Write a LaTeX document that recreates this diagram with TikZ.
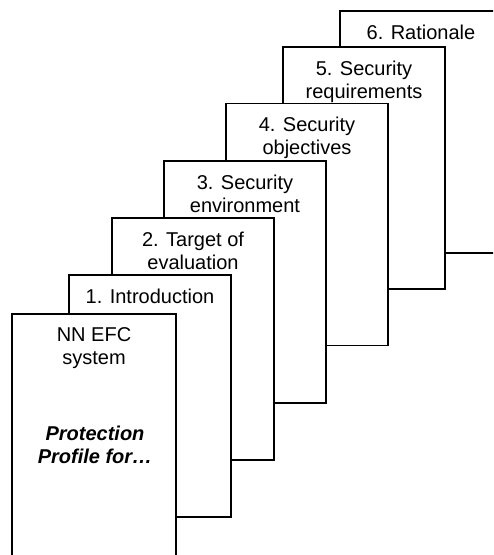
\documentclass[tikz,border=0pt]{standalone}
\usepackage{fontspec}
\setmainfont{Liberation Sans}
\tikzset{
  pagebox/.style={draw=black, fill=white, line width=1.4pt, rectangle, inner sep=0pt,
                  minimum width=121.5pt, minimum height=181.5pt},
  pagetext/.style={anchor=north, inner sep=0pt, align=center,
                   font=\fontsize{15pt}{17.25pt}\selectfont},
  titletext/.style={pagetext, font=\fontsize{15pt}{17.25pt}\selectfont\bfseries\itshape},
}
\begin{document}
\begin{tikzpicture}[x=0.75pt,y=-0.75pt]
\path[use as bounding box] (0,0) rectangle (493,555);
\clip (0,0) rectangle (493,555);
% pages, back to front
\node[pagebox] (p6) at (421,132) {};
\node[pagetext] (t6) at ([yshift=-10.9pt]p6.north) {6. Rationale};
\node[pagebox] (p5) at (364,168) {};
\node[pagetext] (t5) at ([yshift=-10.9pt]p5.north) {5. Security\\requirements};
\node[pagebox] (p4) at (307,224.5) {};
\node[pagetext] (t4) at ([yshift=-10.9pt]p4.north) {4. Security\\objectives};
\node[pagebox] (p3) at (245,282) {};
\node[pagetext] (t3) at ([yshift=-10.9pt]p3.north) {3. Security\\environment};
\node[pagebox] (p2) at (193,339) {};
\node[pagetext] (t2) at ([yshift=-10.9pt]p2.north) {2. Target of\\evaluation};
\node[pagebox] (p1) at (150,396) {};
\node[pagetext] (t1) at ([yshift=-10.9pt]p1.north) {1. Introduction};
\node[pagebox, minimum width=123pt, minimum height=195pt] (p0) at (94,444) {};
\node[pagetext] (t0) at ([yshift=-10.9pt]p0.north) {NN EFC\\system};
\node[titletext] (pp) at (95,425.5) {Protection\\Profile for…};
\end{tikzpicture}
\end{document}
